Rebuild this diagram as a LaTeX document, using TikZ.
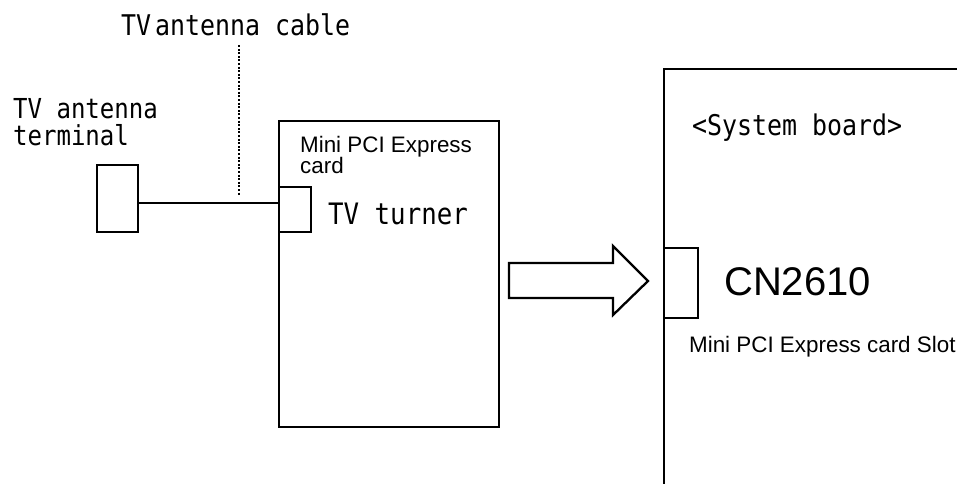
\documentclass[tikz,border=0pt]{standalone}
\usepackage{fontspec}
\setmainfont{Liberation Sans}
\newfontfamily\gothic[FakeStretch=0.874]{DejaVu Sans Mono}
\usetikzlibrary{positioning}

\begin{document}
\begin{tikzpicture}[
    x=1pt, y=-1pt,
    line width=2.3pt,
    part/.style={draw, rectangle, inner sep=0pt, anchor=north west},
    mono/.style={font=\gothic\fontsize{28.5}{27}\selectfont, inner sep=0pt, anchor=base west, align=left},
    sans/.style={font=\fontsize{22.4}{21}\selectfont, inner sep=0pt, anchor=base west, align=left},
    leader/.style={line width=1.8pt, dash pattern=on 2pt off 1.6pt},
    block/.style={draw, line join=miter, fill=white}
]
    \clip (0,0) rectangle (957,483);

    % parts
    \node[part, minimum width=41pt, minimum height=67pt] (term) at (96,164) {};
    \node[part, minimum width=220pt, minimum height=306pt] (card) at (278,120) {};
    \node[part, minimum width=32pt, minimum height=45pt] (tuner) at (278,186) {};
    \node[part, minimum width=420pt, minimum height=520pt] (board) at (663,68) {};
    \node[part, minimum width=34pt, minimum height=70pt] (slot) at (663,247) {};

    % cable and leader
    \coordinate (tap) at (239,203);
    \coordinate (lead top) at (239,45);
    \coordinate (lead end) at (239,195);
    \draw (term.east |- tap) -- (tuner.west |- tap);
    \draw[leader] (lead top) -- (lead end);

    % block arrow towards the slot
    \coordinate (tip) at (648,281);
    \draw[block] (tip) -- ++(-35,-35) -- ++(0,17) -- ++(-104,0) -- ++(0,35)
        -- ++(104,0) -- ++(0,17) -- cycle;

    % labels (base of a two-line label is its last line)
    \node[mono] (cable lbl) at (120,35) {TV\hspace{4pt}antenna cable};
    \node[mono, font=\gothic\fontsize{27.5}{27}\selectfont] (term lbl) at (12,145) {TV antenna\\terminal};
    \node[sans] (card lbl) at (299,173) {Mini PCI Express\\card};
    \node[mono, font=\gothic\fontsize{29.5}{29}\selectfont] (tuner lbl) at (327,224) {TV turner};
    \node[mono] (board lbl) at (691,135) {<System board>};
    \node[sans, font=\fontsize{40}{40}\selectfont] (slot name) at (723,295) {CN2610};
    \node[sans] (slot lbl) at (688,352) {Mini PCI Express card Slot};
\end{tikzpicture}
\end{document}
